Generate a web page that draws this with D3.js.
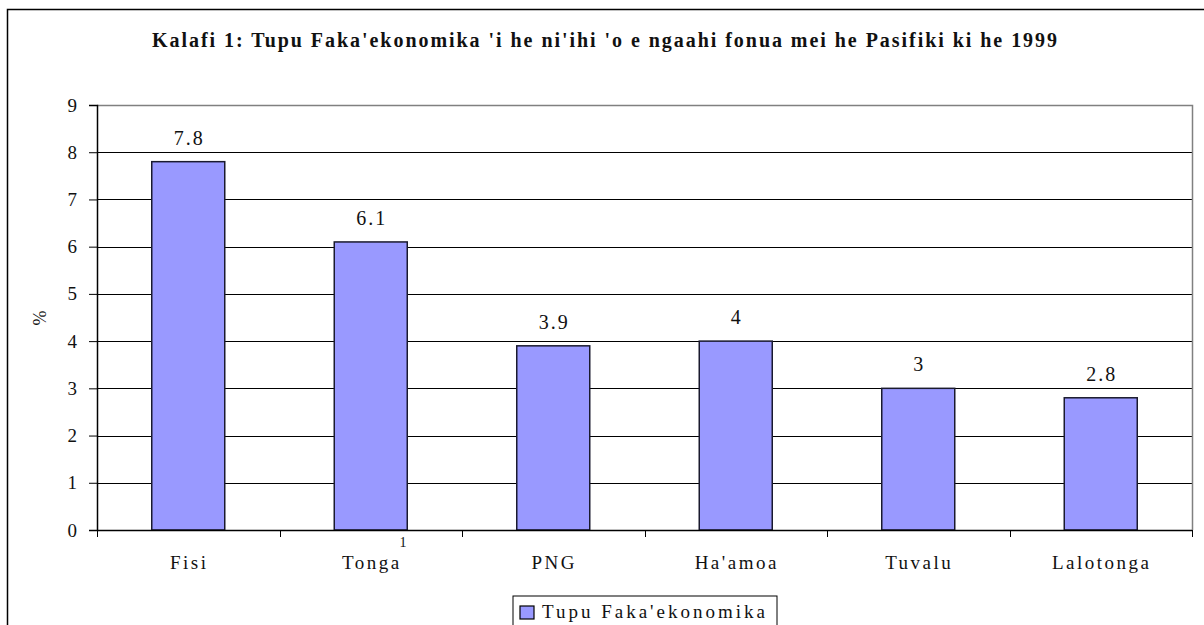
<!DOCTYPE html>
<html>
<head>
<meta charset="utf-8">
<script src="https://cdn.jsdelivr.net/npm/d3@7"></script>
<style>
  body { margin: 0; background: #fff; }
  text { font-family: "Liberation Serif", "DejaVu Serif", serif; fill: #111; }
</style>
</head>
<body>
<div id="chart"></div>
<script>
// datos del grafico
var categories = ["Fisi", "Tonga", "PNG", "Ha'amoa", "Tuvalu", "Lalotonga"];
var values = [7.8, 6.1, 3.9, 4, 3, 2.8];
var yTicks = [0, 1, 2, 3, 4, 5, 6, 7, 8, 9];
var title = "Kalafi 1: Tupu Faka'ekonomika 'i he ni'ihi 'o e ngaahi fonua mei he Pasifiki ki he 1999";
var seriesName = "Tupu Faka'ekonomika";

var width = 1204, height = 625;
var plot = { left: 97, right: 1192, top: 105, bottom: 530 };
var serif = "'Liberation Serif', 'DejaVu Serif', serif";

var svg = d3.select("#chart").append("svg")
    .attr("width", width)
    .attr("height", height);

// borde exterior
svg.append("rect")
    .attr("x", 7.5).attr("y", 9.5)
    .attr("width", 1210).attr("height", 640)
    .attr("fill", "none")
    .attr("stroke", "#000")
    .attr("stroke-width", 1.5);

// escalas
var x = d3.scaleBand()
    .domain(categories)
    .range([plot.left, plot.right])
    .paddingInner(0.6)
    .paddingOuter(0.3);

var xEdges = d3.scaleLinear()
    .domain([0, categories.length])
    .range([plot.left, plot.right]);

var y = d3.scaleLinear()
    .domain([0, 9])
    .range([plot.bottom, plot.top]);

// titulo
svg.append("text")
    .attr("x", 152)
    .attr("y", 47)
    .attr("textLength", 905)
    .attr("lengthAdjust", "spacing")
    .style("font-size", "20px")
    .style("font-weight", "bold")
    .text(title);

// lineas de la cuadricula
svg.append("g")
    .selectAll("line")
    .data(yTicks.filter(d => d > 0 && d < 9))
    .enter()
    .append("line")
    .attr("x1", plot.left)
    .attr("x2", plot.right)
    .attr("y1", d => Math.round(y(d)) + 0.5)
    .attr("y2", d => Math.round(y(d)) + 0.5)
    .attr("stroke", "#000")
    .attr("stroke-width", 1);

// borde del area de trazado (arriba y derecha en gris)
svg.append("path")
    .attr("d", `M${plot.left},${plot.top + 0.5}H${plot.right + 0.5}V${plot.bottom}`)
    .attr("fill", "none")
    .attr("stroke", "#808080")
    .attr("stroke-width", 1.5);

// barras
svg.append("g")
    .selectAll("rect")
    .data(values)
    .enter()
    .append("rect")
    .attr("x", (d, i) => x(categories[i]))
    .attr("y", d => y(d))
    .attr("width", x.bandwidth())
    .attr("height", d => y(0) - y(d))
    .attr("fill", "#9999FF")
    .attr("stroke", "#1a1a2e")
    .attr("stroke-width", 1.5);

// etiquetas de valores
svg.append("g")
    .selectAll("text")
    .data(values)
    .enter()
    .append("text")
    .attr("x", (d, i) => x(categories[i]) + x.bandwidth() / 2 + 1)
    .attr("y", d => y(d) - 17)
    .attr("text-anchor", "middle")
    .style("font-size", "20px")
    .style("letter-spacing", "2px")
    .text(d => d);

// eje Y
var yAxis = svg.append("g")
    .attr("transform", `translate(${plot.left},0)`)
    .call(d3.axisLeft(y).tickValues(yTicks).tickSize(8).tickPadding(12).tickFormat(d3.format("d")));
yAxis.select(".domain").attr("stroke", "#000").attr("stroke-width", 1.5);
yAxis.selectAll(".tick line").attr("stroke", "#000");
yAxis.selectAll(".tick text")
    .style("font-size", "19px")
    .style("font-family", serif)
    .style("fill", "#111");

svg.append("text")
    .attr("transform", "translate(46,318) rotate(-90)")
    .attr("text-anchor", "middle")
    .style("font-size", "18px")
    .text("%");

// eje X
svg.append("line")
    .attr("x1", plot.left).attr("x2", plot.right)
    .attr("y1", plot.bottom + 0.5).attr("y2", plot.bottom + 0.5)
    .attr("stroke", "#000").attr("stroke-width", 1.5);

svg.append("g")
    .selectAll("line")
    .data(d3.range(categories.length + 1))
    .enter()
    .append("line")
    .attr("x1", d => Math.round(xEdges(d)) + 0.5)
    .attr("x2", d => Math.round(xEdges(d)) + 0.5)
    .attr("y1", plot.bottom)
    .attr("y2", plot.bottom + 7)
    .attr("stroke", "#000");

svg.append("g")
    .selectAll("text")
    .data(categories)
    .enter()
    .append("text")
    .attr("x", d => x(d) + x.bandwidth() / 2 + 1)
    .attr("y", 569)
    .attr("text-anchor", "middle")
    .style("font-size", "19px")
    .style("letter-spacing", "2.5px")
    .text(d => d);

// pequeño "1" bajo Tonga
svg.append("text")
    .attr("x", 403)
    .attr("y", 547)
    .attr("text-anchor", "middle")
    .style("font-size", "14px")
    .text("1");

// leyenda
var legend = svg.append("g");
legend.append("rect")
    .attr("x", 513).attr("y", 596)
    .attr("width", 264).attr("height", 40)
    .attr("fill", "#fff")
    .attr("stroke", "#000")
    .attr("stroke-width", 1);
legend.append("rect")
    .attr("x", 520).attr("y", 606)
    .attr("width", 14).attr("height", 13)
    .attr("fill", "#9999FF")
    .attr("stroke", "#000")
    .attr("stroke-width", 1.2);
legend.append("text")
    .attr("x", 542).attr("y", 618)
    .style("font-size", "19px")
    .style("letter-spacing", "3px")
    .text(seriesName);
</script>
</body>
</html>
